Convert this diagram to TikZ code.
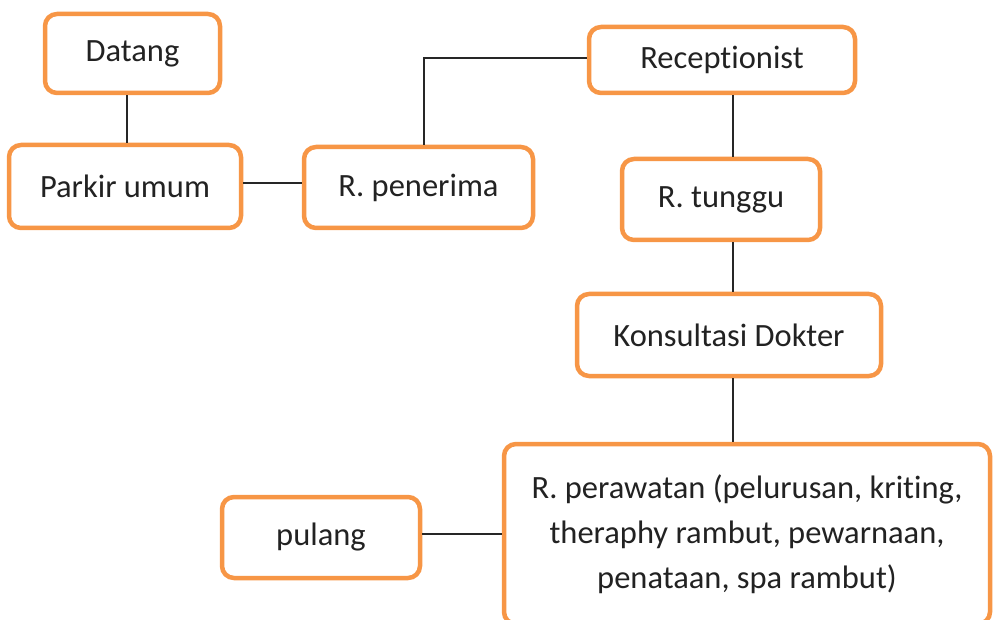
\documentclass[tikz,border=0pt]{standalone}
\usepackage{fontspec}
\setmainfont{Carlito}[Ligatures=NoCommon]
\definecolor{boxorange}{HTML}{F79646}
\definecolor{ink}{HTML}{222222}
\begin{document}
\begin{tikzpicture}[x=1pt,y=-1pt,
  flowbox/.style={draw=boxorange, line width=4.5pt, rounded corners=12pt,
    fill=white, text=ink, inner sep=0pt, align=center,
    font=\fontsize{32.5}{45}\selectfont},
  link/.style={draw=black!85, line width=2.2pt}]
\useasboundingbox (0,0) rectangle (993,620);

% boxes (centre, size at line centre)
\node[flowbox, minimum width=175pt, minimum height=79pt] (datang) at (132.5,53.5) {Datang};
\node[flowbox, minimum width=232pt, minimum height=83pt] (parkir) at (125,186.5) {Parkir umum};
\node[flowbox, minimum width=229pt, minimum height=81pt] (penerima) at (418.5,187.5) {R. penerima};
\node[flowbox, minimum width=266pt, minimum height=66pt] (recep) at (722,60) {Receptionist};
\node[flowbox, minimum width=198pt, minimum height=81pt] (tunggu) at (721,199.5) {R. tunggu};
\node[flowbox, minimum width=304pt, minimum height=82pt] (konsul) at (729,335) {Konsultasi Dokter};
\node[flowbox, minimum width=486pt, minimum height=180pt] (rawat) at (747,534)
  {R. perawatan (pelurusan, kriting,\\theraphy rambut, pewarnaan,\\penataan, spa rambut)};
\node[flowbox, minimum width=198pt, minimum height=81pt] (pulang) at (321,537.5) {pulang};

% vertical spine of the right-hand column
\coordinate (spine) at (733,0);

% connectors
\draw[link] ([xshift=-5.5pt]datang.south) -- ([xshift=-5.5pt]datang.south |- parkir.north);
\draw[link] ([yshift=3.5pt]parkir.east) -- ([yshift=3.5pt]parkir.east -| penerima.west);
\draw[link] ([xshift=5.5pt]penerima.north) |- ([yshift=2pt]recep.west);
\draw[link] (recep.south -| spine) -- (tunggu.north -| spine);
\draw[link] (tunggu.south -| spine) -- (konsul.north -| spine);
\draw[link] (konsul.south -| spine) -- (rawat.north -| spine);
\draw[link] (rawat.west -| pulang.east) -- (rawat.west);
\end{tikzpicture}
\end{document}
